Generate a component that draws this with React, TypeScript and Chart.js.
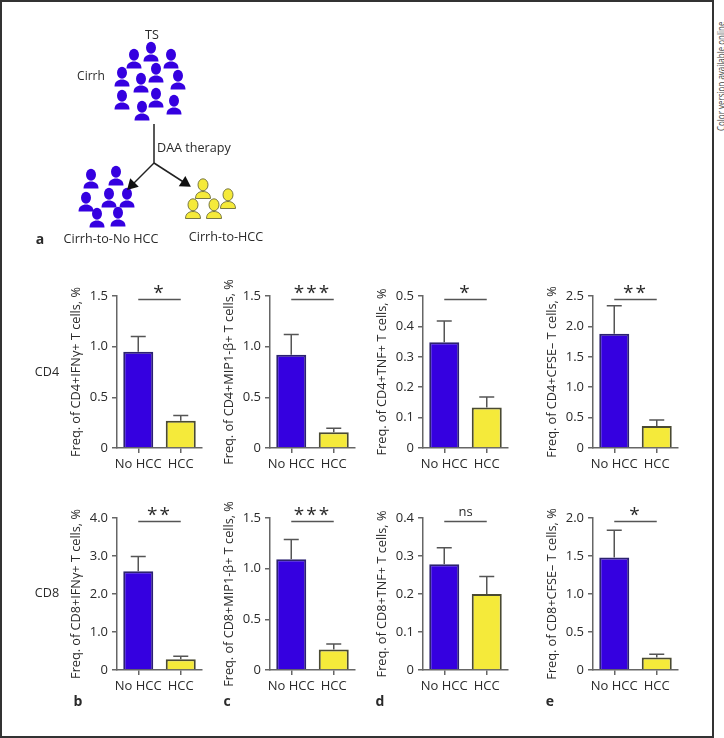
import React, { useEffect, useRef } from "react";
import { Chart, registerables } from "chart.js";

Chart.register(...registerables);

const FONT = "'Open Sans', sans-serif";
const categories = ["No HCC", "HCC"];

const cd4IfnMean = [0.95, 0.27];
const cd4IfnErr = [1.1, 0.32];
const cd4MipMean = [0.92, 0.155];
const cd4MipErr = [1.12, 0.195];
const cd4TnfMean = [0.348, 0.133];
const cd4TnfErr = [0.418, 0.168];
const cd4CfseMean = [1.88, 0.36];
const cd4CfseErr = [2.34, 0.46];
const cd8IfnMean = [2.6, 0.28];
const cd8IfnErr = [2.99, 0.36];
const cd8MipMean = [1.093, 0.203];
const cd8MipErr = [1.287, 0.256];
const cd8TnfMean = [0.278, 0.2];
const cd8TnfErr = [0.322, 0.246];
const cd8CfseMean = [1.48, 0.166];
const cd8CfseErr = [1.84, 0.206];

const BLUE = "#3500e0";
const YELLOW = "#f5ea3a";
const AXIS = "#666666";
const INK = "#2a2a2a";

type Panel = {
  title: string; mean: number[]; err: number[]; max: number; step: number; sig: string; x: number; y: number;
};

const panels: Panel[] = [
  { title: "Freq. of CD4+IFNγ+ T cells, %", mean: cd4IfnMean, err: cd4IfnErr, max: 1.5, step: 0.5, sig: "*", x: 117, y: 296 },
  { title: "Freq. of CD4+MIP1-β+ T cells, %", mean: cd4MipMean, err: cd4MipErr, max: 1.5, step: 0.5, sig: "***", x: 270, y: 296 },
  { title: "Freq. of CD4+TNF+ T cells, %", mean: cd4TnfMean, err: cd4TnfErr, max: 0.5, step: 0.1, sig: "*", x: 423, y: 296 },
  { title: "Freq. of CD4+CFSE– T cells, %", mean: cd4CfseMean, err: cd4CfseErr, max: 2.5, step: 0.5, sig: "**", x: 593, y: 296 },
  { title: "Freq. of CD8+IFNγ+ T cells, %", mean: cd8IfnMean, err: cd8IfnErr, max: 4, step: 1, sig: "**", x: 117, y: 518 },
  { title: "Freq. of CD8+MIP1-β+ T cells, %", mean: cd8MipMean, err: cd8MipErr, max: 1.5, step: 0.5, sig: "***", x: 270, y: 518 },
  { title: "Freq. of CD8+TNF+ T cells, %", mean: cd8TnfMean, err: cd8TnfErr, max: 0.4, step: 0.1, sig: "ns", x: 423, y: 518 },
  { title: "Freq. of CD8+CFSE– T cells, %", mean: cd8CfseMean, err: cd8CfseErr, max: 2, step: 0.5, sig: "*", x: 593, y: 518 },
];

// schematic of panel a: icon positions in figure units
const mainX = [134, 151, 171, 122, 156, 141, 178, 122, 156, 174, 142];
const mainY = [59, 52, 59, 77, 73, 83, 80, 100, 98, 105, 111];
const noHccX = [91, 116, 86, 109, 127, 97, 118];
const noHccY = [179, 176, 202, 198, 198, 218, 217];
const hccX = [203, 228, 193, 214];
const hccY = [189, 199, 209, 209];
const stemX = [154, 154];
const stemY = [124, 163];
const leftArmX = [154, 132];
const leftArmY = [163, 185];
const rightArmX = [154, 185];
const rightArmY = [163, 183];

function personIcon(fill: string, stroke: string | null) {
  const c = document.createElement("canvas");
  c.width = 18;
  c.height = 22;
  const g = c.getContext("2d")!;
  g.fillStyle = fill;
  g.strokeStyle = stroke ?? fill;
  g.lineWidth = stroke ? 0.9 : 0;
  g.beginPath();
  g.ellipse(9, 6.8, 5, 6, 0, 0, Math.PI * 2);
  g.fill();
  if (stroke) g.stroke();
  g.beginPath();
  g.moveTo(1.5, 20.5);
  g.bezierCurveTo(1.5, 15.5, 5, 13.5, 9, 13.5);
  g.bezierCurveTo(13, 13.5, 16.5, 15.5, 16.5, 20.5);
  g.closePath();
  g.fill();
  if (stroke) g.stroke();
  return c;
}

const toXY = (xs: number[], ys: number[]) => xs.map((x, i) => ({ x, y: ys[i] }));

const markPlugin = {
  id: "marks",
  afterDatasetsDraw(chart: any, _a: any, o: any) {
    const { ctx, chartArea } = chart;
    const xs = chart.scales.x;
    const ys = chart.scales.y;
    ctx.save();
    ctx.strokeStyle = "#555555";
    ctx.lineWidth = 1.5;
    o.err.forEach((e: number, i: number) => {
      const cx = xs.getPixelForValue(i);
      const top = ys.getPixelForValue(e);
      const bot = ys.getPixelForValue(o.mean[i]);
      ctx.beginPath();
      ctx.moveTo(cx, bot);
      ctx.lineTo(cx, top);
      ctx.moveTo(cx - 7.5, top);
      ctx.lineTo(cx + 7.5, top);
      ctx.stroke();
    });
    const by = chartArea.top + 3.5;
    ctx.beginPath();
    ctx.moveTo(xs.getPixelForValue(0), by);
    ctx.lineTo(xs.getPixelForValue(1), by);
    ctx.stroke();
    const mid = (xs.getPixelForValue(0) + xs.getPixelForValue(1)) / 2;
    ctx.fillStyle = INK;
    ctx.textAlign = "center";
    ctx.textBaseline = "alphabetic";
    if (o.sig === "ns") {
      ctx.font = `13px ${FONT}`;
      ctx.fillText("ns", mid, chartArea.top - 2);
    } else {
      ctx.font = `19px ${FONT}`;
      (ctx as any).letterSpacing = "2px";
      ctx.fillText(o.sig, mid, chartArea.top + 3);
    }
    ctx.restore();
  },
};

function Bars({ p }: { p: Panel }) {
  const ref = useRef<HTMLCanvasElement>(null);
  useEffect(() => {
    const chart = new Chart(ref.current!, {
      type: "bar",
      plugins: [markPlugin],
      data: {
        labels: categories,
        datasets: [
          {
            data: p.mean,
            backgroundColor: [BLUE, YELLOW],
            borderColor: ["#2c2270", "#4a4a32"],
            borderWidth: 2,
            barPercentage: 0.706,
            categoryPercentage: 1,
          },
        ],
      },
      options: {
        responsive: false,
        animation: false,
        layout: { padding: { top: 30, right: 15, left: 0, bottom: 0 } },
        plugins: {
          legend: { display: false },
          tooltip: { enabled: false },
          marks: { mean: p.mean, err: p.err, sig: p.sig },
        } as any,
        scales: {
          x: {
            afterFit: (s: any) => { s.height = 40; },
            border: { color: AXIS, width: 1.5 },
            grid: { display: true, drawOnChartArea: false, drawTicks: true, tickLength: 5, color: AXIS, lineWidth: 1.5, offset: false },
            ticks: { font: { family: FONT, size: 13 }, color: INK, padding: 3, maxRotation: 0, autoSkip: false },
          },
          y: {
            min: 0,
            max: p.max,
            afterFit: (s: any) => { s.width = 60; },
            border: { color: AXIS, width: 1.5 },
            grid: { display: true, drawOnChartArea: false, drawTicks: true, tickLength: 5, color: AXIS, lineWidth: 1.5 },
            ticks: {
              stepSize: p.step,
              font: { family: FONT, size: 13 },
              color: INK,
              padding: 4,
              callback: (v: any) => (Number(v) === 0 ? "0" : Number(v).toFixed(1)),
            },
            title: {
              display: true,
              text: p.title,
              font: { family: FONT, size: 12.7 },
              color: INK,
              padding: { top: 12, bottom: 0 },
            },
          },
        },
      } as any,
    });
    return () => chart.destroy();
  }, [p]);
  return (
    <canvas
      ref={ref}
      width={160}
      height={222}
      style={{ position: "absolute", left: p.x - 60, top: p.y - 30, width: 160, height: 222 }}
    />
  );
}

function Schematic() {
  const ref = useRef<HTMLCanvasElement>(null);
  useEffect(() => {
    const blue = personIcon(BLUE, null);
    const yellow = personIcon(YELLOW, "#6a6a3a");
    const line = { type: "line", borderColor: "#222222", borderWidth: 1.5, pointRadius: 0, showLine: true, fill: false };
    const head = { pointStyle: "triangle", pointRadius: [0, 7], backgroundColor: "#111111", pointBorderWidth: 0 };
    const chart = new Chart(ref.current!, {
      type: "scatter",
      data: {
        datasets: [
          { ...line, data: toXY(stemX, stemY) },
          { ...line, ...head, data: toXY(leftArmX, leftArmY), pointRotation: 225 },
          { ...line, ...head, data: toXY(rightArmX, rightArmY), pointRotation: 123 },
          { data: toXY(mainX, mainY), pointStyle: blue },
          { data: toXY(noHccX, noHccY), pointStyle: blue },
          { data: toXY(hccX, hccY), pointStyle: yellow },
        ],
      },
      options: {
        responsive: false,
        animation: false,
        layout: { autoPadding: false, padding: 0 },
        plugins: { legend: { display: false }, tooltip: { enabled: false } },
        scales: {
          x: { display: false, min: 0, max: 300 },
          y: { display: false, min: 0, max: 260, reverse: true },
        },
      } as any,
    });
    return () => chart.destroy();
  }, []);
  return <canvas ref={ref} width={300} height={260} style={{ position: "absolute", left: 0, top: 0, width: 300, height: 260 }} />;
}

function Label({ x, y, text, bold, size = 12.6, align = "center" }: any) {
  const tx = align === "center" ? "-50%" : "0";
  return (
    <div
      style={{
        position: "absolute",
        left: x,
        top: y,
        transform: `translate(${tx}, -50%)`,
        font: `${bold ? 700 : 400} ${size}px ${FONT}`,
        color: INK,
        whiteSpace: "nowrap",
      }}
    >
      {text}
    </div>
  );
}

export default function App() {
  return (
    <div style={{ position: "absolute", left: 0, top: 0, width: 724, height: 738, overflow: "hidden", background: "#fff" }}>
      <div style={{ position: "absolute", left: 0, top: 0, width: 714, height: 738, boxSizing: "border-box", border: "2px solid #333" }} />
      <Schematic />
      {panels.map((p) => (
        <Bars key={p.title} p={p} />
      ))}
      <Label x={152} y={34} text="TS" />
      <Label x={91} y={75} text="Cirrh" size={12} />
      <Label x={157} y={147} text="DAA therapy" align="left" />
      <Label x={111} y={238} text="Cirrh-to-No HCC" />
      <Label x={226} y={236} text="Cirrh-to-HCC" />
      <Label x={40} y={238} text="a" bold size={14} />
      <Label x={47} y={371} text="CD4" />
      <Label x={47} y={592} text="CD8" />
      <Label x={78} y={700} text="b" bold size={14} />
      <Label x={227} y={700} text="c" bold size={14} />
      <Label x={380} y={700} text="d" bold size={14} />
      <Label x={550} y={700} text="e" bold size={14} />
      <div
        style={{
          position: "absolute",
          left: 714,
          top: 131,
          transformOrigin: "0 0",
          transform: "rotate(-90deg) scaleX(0.8)",
          font: `400 10px ${FONT}`,
          color: "#444",
          whiteSpace: "nowrap",
        }}
      >
        Color version available online
      </div>
    </div>
  );
}
